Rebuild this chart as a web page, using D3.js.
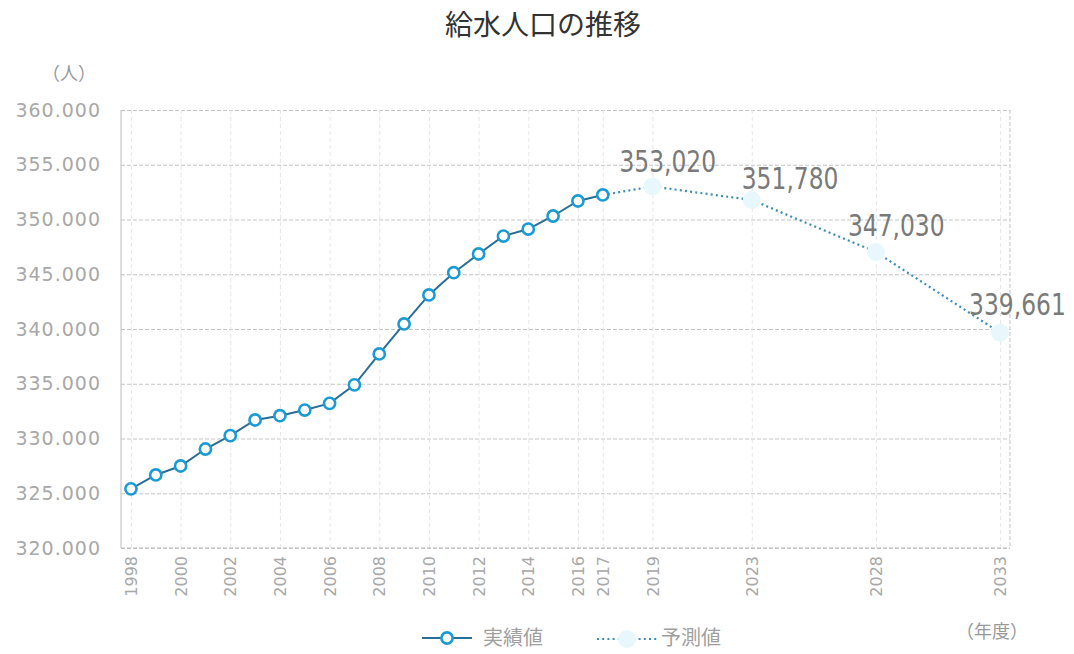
<!DOCTYPE html>
<html>
<head>
<meta charset="utf-8">
<script src="https://cdn.jsdelivr.net/npm/d3@7"></script>
<style>
  html, body { margin: 0; padding: 0; background: #fff; }
  svg { display: block; }
</style>
</head>
<body>
<svg id="chart" width="1074" height="654"></svg>
<script>
// ---- data ----
const actualYears = [1998,1999,2000,2001,2002,2003,2004,2005,2006,2007,2008,2009,2010,2011,2012,2013,2014,2015,2016,2017];
const actualValues = [325400,326670,327490,329040,330260,331690,332080,332600,333210,334900,337720,340460,343110,345140,346850,348490,349130,350320,351690,352240];
const forecastYears = [2019,2023,2028,2033];
const forecastValues = [353020,351780,347030,339661];
const xTickYears = [1998,2000,2002,2004,2006,2008,2010,2012,2014,2016,2017,2019,2023,2028,2033];
const yTickValues = [320000,325000,330000,335000,340000,345000,350000,355000,360000];
const titleText = "給水人口の推移";
const yUnitText = "（人）";
const xUnitText = "（年度）";
const legendLabels = ["実績値", "予測値"];

// ---- layout ----
const svg = d3.select("#chart");
const pL = 121, pR = 1010, pT = 110, pB = 548;
const x = d3.scaleLinear().domain([1997.6, 2033.4]).range([pL, pR]);
const y = d3.scaleLinear().domain([320000, 360000]).range([pB, pT]);

const jp = "'Noto Sans CJK JP', 'Noto Sans', sans-serif";
const axisFont = "'DejaVu Sans', sans-serif";
const gridColor = "#c4c4c4";
const actualLine = "#2a6e96";
const markerStroke = "#1b9bd3";
const forecastLine = "#3a8db5";
const forecastMarker = "#e8f7fb";

// title
svg.append("text").attr("x", 543).attr("y", 35).attr("text-anchor", "middle")
  .attr("font-family", jp).attr("font-size", 28).attr("fill", "#333")
  .text(titleText);

// unit
svg.append("text").attr("x", 69).attr("y", 80).attr("text-anchor", "middle")
  .attr("font-family", jp).attr("font-size", 18).attr("fill", "#999")
  .text(yUnitText);

// horizontal grid
const yAxis = d3.axisLeft(y).tickValues(yTickValues).tickSize(-(pR - pL)).tickPadding(20)
  .tickFormat(d3.formatLocale({decimal: ",", thousands: ".", grouping: [3], currency: ["", ""]}).format(",d"));
const gy = svg.append("g").attr("transform", `translate(${pL},0)`).call(yAxis);
gy.select(".domain").remove();
gy.selectAll(".tick line").attr("stroke", gridColor).attr("stroke-dasharray", "4,2").attr("stroke-width", 1);
gy.selectAll(".tick text").attr("font-family", axisFont).attr("font-size", 19)
  .attr("fill", "#a8a8a8").attr("letter-spacing", 1);

// vertical grid + x labels
const xAxis = d3.axisBottom(x).tickValues(xTickYears).tickSize(-(pB - pT)).tickPadding(0).tickFormat(d3.format("d"));
const gx = svg.append("g").attr("transform", `translate(0,${pB})`).call(xAxis);
gx.select(".domain").remove();
gx.selectAll(".tick line").attr("stroke", "#e6e6e6").attr("stroke-dasharray", "4,3").attr("stroke-width", 1);
gx.selectAll(".tick text")
  .attr("font-family", axisFont).attr("font-size", 16).attr("fill", "#a8a8a8")
  .attr("text-anchor", "end").attr("dy", "0.35em")
  .attr("transform", "translate(0,8) rotate(-90)").attr("x", 0).attr("y", 0);

// frame
svg.append("line").attr("x1", pL).attr("x2", pL).attr("y1", pT).attr("y2", pB)
  .attr("stroke", "#bdbdbd").attr("stroke-width", 1);
svg.append("line").attr("x1", pR).attr("x2", pR).attr("y1", pT).attr("y2", pB)
  .attr("stroke", gridColor).attr("stroke-dasharray", "4,2");
svg.append("line").attr("x1", pL).attr("x2", pR).attr("y1", pB).attr("y2", pB)
  .attr("stroke", "#bdbdbd").attr("stroke-dasharray", "4,2");

// forecast series (dotted), starting at last actual point
const fData = [{yr: actualYears[actualYears.length - 1], v: actualValues[actualValues.length - 1]}]
  .concat(forecastYears.map((yr, i) => ({yr, v: forecastValues[i]})));
const line = d3.line().x(d => x(d.yr)).y(d => y(d.v));
svg.append("path").datum(fData).attr("d", line).attr("fill", "none")
  .attr("stroke", forecastLine).attr("stroke-width", 2.2).attr("stroke-dasharray", "2,3.2");
svg.selectAll(".fm").data(fData.slice(1)).enter().append("circle")
  .attr("cx", d => x(d.yr)).attr("cy", d => y(d.v)).attr("r", 9)
  .attr("fill", forecastMarker);

// actual series
const aData = actualYears.map((yr, i) => ({yr, v: actualValues[i]}));
svg.append("path").datum(aData).attr("d", line).attr("fill", "none")
  .attr("stroke", actualLine).attr("stroke-width", 2);
svg.selectAll(".am").data(aData).enter().append("circle")
  .attr("cx", d => x(d.yr)).attr("cy", d => y(d.v)).attr("r", 5.6)
  .attr("fill", "#fff").attr("stroke", markerStroke).attr("stroke-width", 2.6);

// forecast labels (condensed via horizontal scale)
const labelShift = {2019: [-33, -14], 2023: [-10, -11], 2028: [-28, -16], 2033: [-31, -18]};
svg.selectAll(".fl").data(fData.slice(1)).enter().append("text")
  .attr("transform", d => `translate(${x(d.yr) + labelShift[d.yr][0]},${y(d.v) + labelShift[d.yr][1]}) scale(0.78,1)`)
  .attr("font-family", axisFont)
  .attr("font-size", 30).attr("fill", "#7a7a7a")
  .text(d => d3.format(",")(d.v));

// legend
const lg = svg.append("g");
lg.append("line").attr("x1", 422).attr("x2", 472).attr("y1", 638).attr("y2", 638)
  .attr("stroke", actualLine).attr("stroke-width", 2);
lg.append("circle").attr("cx", 447).attr("cy", 638).attr("r", 5.6)
  .attr("fill", "#fff").attr("stroke", markerStroke).attr("stroke-width", 2.6);
lg.append("text").attr("x", 483).attr("y", 645).attr("font-family", jp).attr("font-size", 20)
  .attr("fill", "#a0a0a0").text(legendLabels[0]);
lg.append("line").attr("x1", 597).attr("x2", 657).attr("y1", 639).attr("y2", 639)
  .attr("stroke", forecastLine).attr("stroke-width", 2).attr("stroke-dasharray", "2,3.2");
lg.append("circle").attr("cx", 627).attr("cy", 639).attr("r", 9).attr("fill", forecastMarker);
lg.append("text").attr("x", 661).attr("y", 645).attr("font-family", jp).attr("font-size", 20)
  .attr("fill", "#a0a0a0").text(legendLabels[1]);

// x unit
svg.append("text").attr("x", 992).attr("y", 638).attr("text-anchor", "middle")
  .attr("font-family", jp).attr("font-size", 18).attr("fill", "#999")
  .text(xUnitText);
</script>
</body>
</html>
